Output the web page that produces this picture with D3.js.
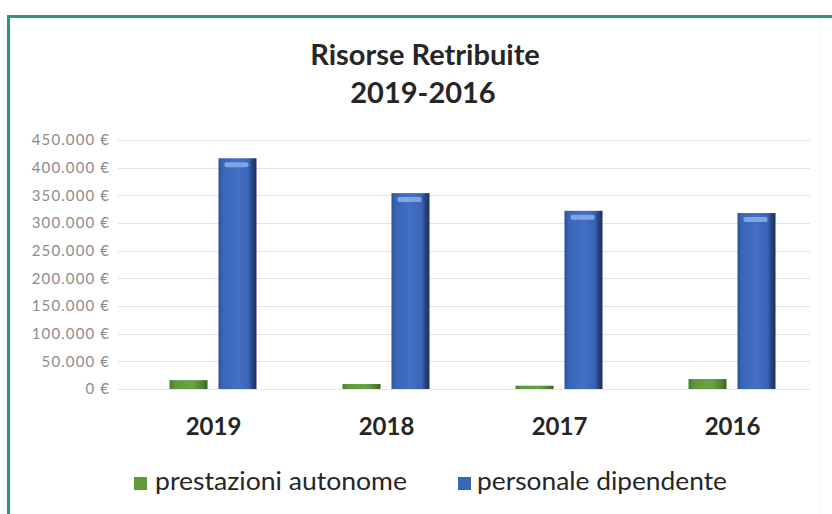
<!DOCTYPE html>
<html><head><meta charset="utf-8">
<script src="https://cdn.jsdelivr.net/npm/d3@7"></script>
<style>body{margin:0;background:#fff}svg{display:block}</style>
</head><body>
<svg id="c" width="832" height="514"></svg>
<script>
const categories = ["2019", "2018", "2017", "2016"];
const seriesNames = ["prestazioni autonome", "personale dipendente"];
const autonome = [16000, 9000, 6000, 18000];
const dipendente = [417000, 354000, 322000, 318000];
const yTicks = [0, 50000, 100000, 150000, 200000, 250000, 300000, 350000, 400000, 450000];

const svg = d3.select("#c");
const font = "Lato, 'Open Sans', sans-serif";

// border
svg.append("path").attr("d", "M8.5,514 L8.5,16.5 L832,16.5").attr("fill", "none")
  .attr("stroke", "#2a9a68").attr("stroke-width", 3);
svg.append("line").attr("x1", 819.5).attr("x2", 819.5).attr("y1", 18).attr("y2", 514)
  .attr("stroke", "#f4fbfa").attr("stroke-width", 2);

// title
svg.append("text").attr("x", 425).attr("y", 65).attr("text-anchor", "middle")
  .attr("font-family", font).attr("font-weight", "bold").attr("font-size", 29).attr("fill", "#262626")
  .text("Risorse Retribuite");
svg.append("text").attr("x", 423).attr("y", 103).attr("text-anchor", "middle")
  .attr("font-family", font).attr("font-weight", "bold").attr("font-size", 29).attr("fill", "#262626")
  .text("2019-2016");

const y = d3.scaleLinear().domain([0, 450000]).range([389, 140]);
const x0 = d3.scaleBand().domain(categories).range([127, 819]).padding(0);
const x1 = d3.scaleBand().domain(seriesNames)
  .range([x0.bandwidth() / 2 - 44, x0.bandwidth() / 2 + 43]).paddingInner(0.224).paddingOuter(0);

const loc = d3.formatLocale({decimal: ",", thousands: ".", grouping: [3], currency: ["", " €"]});
const fmt = loc.format("$,");

// gridlines
svg.append("g").selectAll("line").data(yTicks).join("line")
  .attr("x1", 118).attr("x2", 810)
  .attr("y1", d => Math.round(y(d)) + 0.5).attr("y2", d => Math.round(y(d)) + 0.5)
  .attr("stroke", "#e4e4e4").attr("stroke-width", 1);

// y axis labels
const yAxis = d3.axisLeft(y).tickValues(yTicks).tickFormat(fmt).tickSize(0).tickPadding(0);
const gy = svg.append("g").attr("transform", "translate(110,0)").call(yAxis);
gy.select(".domain").remove();
gy.selectAll("text").attr("font-family", font).attr("font-size", 15).attr("fill", "#8c8c8c")
  .attr("letter-spacing", 1.1);

// gradients
const defs = svg.append("defs");
function grad(id, stops) {
  const g = defs.append("linearGradient").attr("id", id).attr("x1", "0").attr("x2", "1").attr("y1", "0").attr("y2", "0");
  stops.forEach(s => g.append("stop").attr("offset", s[0]).attr("stop-color", s[1]));
}
grad("gBlue", [[0, "#2c5096"], [0.1, "#3964b6"], [0.5, "#4370c4"], [0.8, "#3a64b4"], [0.88, "#284784"], [1, "#1b305c"]]);
grad("gGreen", [[0, "#4a7a2e"], [0.15, "#5e9a3c"], [0.6, "#67a443"], [0.88, "#4f8032"], [1, "#3a5e24"]]);

const data = categories.map((c, i) => ({cat: c, vals: [
  {s: seriesNames[0], v: autonome[i]},
  {s: seriesNames[1], v: dipendente[i]}]}));

const groups = svg.append("g").selectAll("g").data(data).join("g")
  .attr("transform", d => `translate(${x0(d.cat)},0)`);
groups.selectAll("rect.bar").data(d => d.vals).join("rect").attr("class", "bar")
  .attr("x", d => x1(d.s)).attr("width", x1.bandwidth())
  .attr("y", d => y(d.v)).attr("height", d => y(0) - y(d.v))
  .attr("fill", d => d.s === seriesNames[0] ? "url(#gGreen)" : "url(#gBlue)");
// top highlight of blue bars
groups.selectAll("rect.hl").data(d => d.vals.filter(v => v.s === seriesNames[1])).join("rect").attr("class", "hl")
  .attr("x", d => x1(d.s) + 6).attr("width", x1.bandwidth() - 14)
  .attr("y", d => y(d.v) + 4).attr("height", 5).attr("rx", 2)
  .attr("fill", "#7fa6e4");

// x labels
const xAxis = d3.axisBottom(x0).tickSize(0).tickPadding(0);
const gx = svg.append("g").attr("transform", "translate(0,435)").call(xAxis);
gx.select(".domain").remove();
gx.selectAll("text").attr("font-family", font).attr("font-weight", "bold").attr("font-size", 24)
  .attr("fill", "#262626").attr("dy", 0);

// legend
const legend = [{name: seriesNames[0], color: "#5e9a3c", x: 134, tx: 155, w: 252},
                {name: seriesNames[1], color: "#3a66b8", x: 458, tx: 477, w: 250}];
const lg = svg.append("g");
lg.selectAll("rect").data(legend).join("rect")
  .attr("x", d => d.x).attr("y", 477).attr("width", 13).attr("height", 13).attr("fill", d => d.color);
lg.selectAll("text").data(legend).join("text")
  .attr("x", d => d.tx).attr("y", 490).attr("font-family", font).attr("font-size", 25)
  .attr("fill", "#262626").attr("textLength", d => d.w).attr("lengthAdjust", "spacingAndGlyphs")
  .text(d => d.name);
</script>
</body></html>
